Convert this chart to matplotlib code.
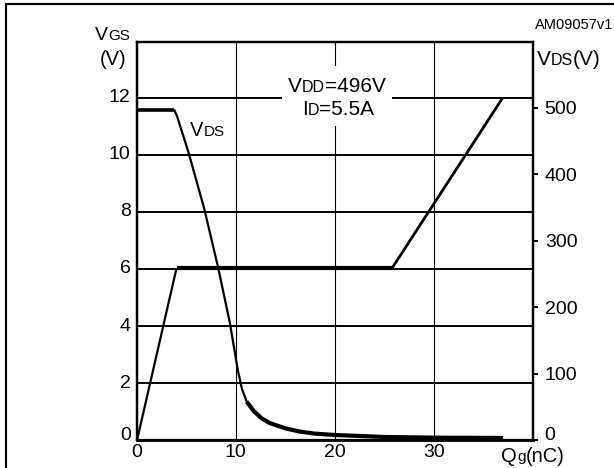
import matplotlib
matplotlib.use("Agg")
import matplotlib.pyplot as plt
from matplotlib import transforms
from matplotlib.patches import Rectangle
from matplotlib.lines import Line2D

plt.rcParams['font.family'] = ['Liberation Sans', 'DejaVu Sans']

W, H = 614, 468

# gate charge curve, VGS (V) vs Qg (nC)
qg_vgs = [0, 4.0, 25.8, 37.0]
vgs = [0, 6.03, 6.03, 12.0]

# drain-source voltage, VDS (V) vs Qg (nC)
qg_vds = [0, 3.75, 4.05, 5.2, 6.8, 8.2, 9.4, 10.2, 10.6, 11.1, 11.8,
          12.6, 13.4, 15.0, 16.5, 18.0, 20.0, 25.0, 30.0, 37.0]
vds = [497, 497, 487, 433, 348, 260, 176, 105, 78, 58, 44,
       33, 26, 18, 13, 10, 8, 5, 4, 3.5]

x_ticks = [0, 10, 20, 30]
vgs_ticks = [0, 2, 4, 6, 8, 10, 12]
vds_ticks = [0, 100, 200, 300, 400, 500]

fig = plt.figure(figsize=(W / 100, H / 100), dpi=100)
# pixel coords measured from the top-left corner
pix = transforms.Affine2D().scale(1 / W, -1 / H).translate(0, 1) + fig.transFigure

ax = fig.add_axes([137 / W, (H - 440.3) / H, 395.5 / W, 398 / H])
ax.set_xlim(0, 40)
ax.set_ylim(0, 398 / 28.56)
ax.set_xticks(x_ticks)
ax.set_yticks(vgs_ticks)
ax.xaxis.grid(True, color='black', lw=0.8)
ax.yaxis.grid(True, color='black', lw=1.4)
ax.tick_params(axis='both', length=0, labelsize=14)
ax.tick_params(axis='x', pad=2.5)
ax.tick_params(axis='y', pad=4.5)
for lab in ax.get_yticklabels():
    lab.set_va('center')
ax.get_yticklabels()[0].set_va('baseline')

ax2 = ax.twinx()
ax2.set_ylim(0, 598)
ax2.set_yticks(vds_ticks)
ax2.tick_params(axis='y', direction='out', length=3.8, width=1.4, pad=5,
                labelsize=14)
ax2.get_yticklabels()[0].set_va('baseline')

for a in (ax, ax2):
    for s in a.spines.values():
        s.set_linewidth(1.6)
ax.spines['bottom'].set_linewidth(2.0)

# VGS, thin rise / thick plateau / rise
kw = dict(color='black', solid_capstyle='butt', solid_joinstyle='round')
ax.plot(qg_vgs[0:2], vgs[0:2], lw=1.6, **kw)
ax.plot(qg_vgs[1:3], vgs[1:3], lw=3.0, **kw)
ax.plot(qg_vgs[2:4], vgs[2:4], lw=2.0, **kw)

# VDS, thick flat / thin drop / thick tail
ax2.plot(qg_vds[0:2], vds[0:2], lw=2.6, **kw)
ax2.plot(qg_vds[1:10], vds[1:10], lw=1.6, **kw)
ax2.plot(qg_vds[9:], vds[9:], lw=3.0, **kw)

renderer = fig.canvas.get_renderer()


def label(x, y, parts, ha='left'):
    # parts: (text, fontsize); small parts act as subscripts on the same baseline
    txts = [fig.text(0, 0, s, fontsize=fs, va='baseline', ha='left',
                     transform=pix, zorder=4) for s, fs in parts]
    widths = [t.get_window_extent(renderer).width for t in txts]
    total = sum(widths)
    cur = x - {'left': 0, 'center': total / 2, 'right': total}[ha]
    for t, w in zip(txts, widths):
        t.set_position((cur, y))
        cur += w


label(95, 40, [('V', 14), ('GS', 11)])
label(100, 65, [('(V)', 14.5)])
label(537, 65, [('V', 15), ('DS', 11.5), ('(V)', 15)])
label(533, 461.5, [('Q', 14.5), ('g', 11), ('(nC)', 14.5)], ha='center')
label(190, 136, [('V', 14.5), ('DS', 11)])

fig.add_artist(Rectangle((282, 66), 110, 60, transform=pix, fc='white',
                         ec='none', zorder=1))
label(337, 92, [('V', 15), ('DD', 11.5), ('=496V', 15)], ha='center')
label(338, 115, [('I', 15), ('D', 11.5), ('=5.5A', 15)], ha='center')

fig.text(613, 29, 'AM09057v1', fontsize=10.5, ha='right', va='baseline',
         transform=pix)

# frame around the figure
fk = dict(transform=pix, color='black', lw=1.5, solid_capstyle='projecting',
          clip_on=False)
fig.add_artist(Line2D([5.7, 5.7], [H + 5, 4.3], **fk))
fig.add_artist(Line2D([5.7, W + 5], [4.3, 4.3], **fk))

fig.savefig('out.png', dpi=100)
